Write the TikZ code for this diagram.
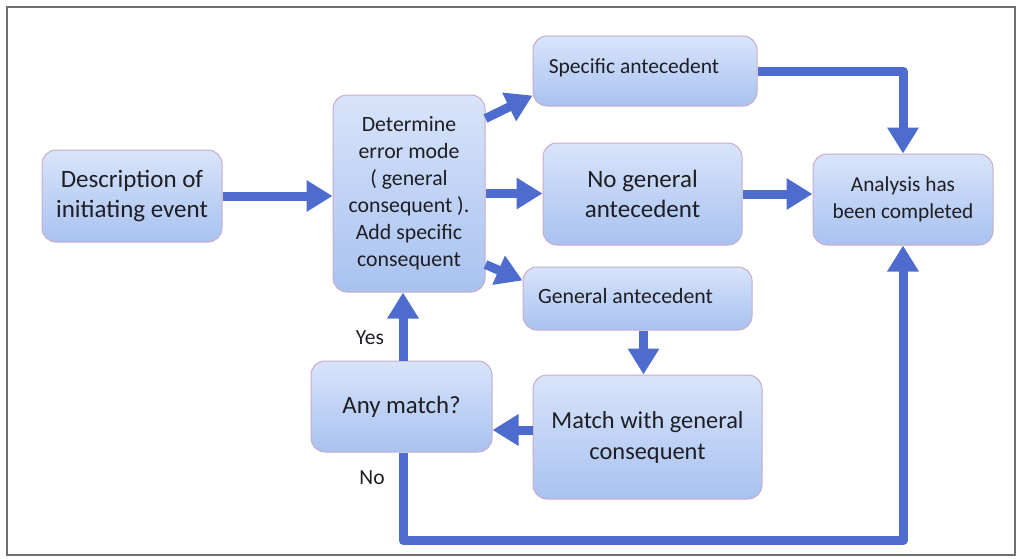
\documentclass[tikz,border=0pt]{standalone}
\usepackage{fontspec}
\setmainfont{Carlito}
\usetikzlibrary{arrows.meta,calc}

\definecolor{flowblue}{RGB}{78,108,206}
\definecolor{boxtop}{RGB}{216,228,250}
\definecolor{boxbottom}{RGB}{168,194,240}
\definecolor{boxedge}{RGB}{200,172,200}
\definecolor{inktext}{RGB}{30,30,36}
\definecolor{framegray}{RGB}{110,110,115}

\tikzset{
  stepbox/.style={draw=boxedge, line width=1pt, rounded corners=14pt,
    top color=boxtop, bottom color=boxbottom, text=inktext,
    align=center, inner sep=0pt},
  flow/.style={line width=9pt, draw=flowblue, line join=round,
    -{Triangle[width=30pt,length=26pt]}},
  answer/.style={text=inktext, font=\fontsize{21.5}{24}\selectfont}
}

\begin{document}
\begin{tikzpicture}[x=1pt,y=-1pt]
  \useasboundingbox (0,0) rectangle (1018,558);
  % outer frame
  \draw[framegray, line width=1.3pt] (7,7) rectangle (1015,555);

  % process boxes
  \node[stepbox, minimum width=180pt, minimum height=92pt,
        font=\fontsize{25}{30}\selectfont] (desc) at (132,196)
        {Description of\\initiating event};
  \node[stepbox, minimum width=152pt, minimum height=197pt,
        font=\fontsize{21.8}{27}\selectfont] (det) at (409,193.5)
        {Determine\\error mode\\( general\\consequent ).\\Add specific\\consequent};
  \node[stepbox, minimum width=224pt, minimum height=70pt,
        font=\fontsize{21.5}{24}\selectfont] (spec) at (645,71)
        {\raisebox{9pt}{\hspace*{-22pt}Specific antecedent}};
  \node[stepbox, minimum width=199pt, minimum height=102pt,
        font=\fontsize{25}{30}\selectfont] (nogen) at (642.5,194)
        {No general\\antecedent};
  \node[stepbox, minimum width=229pt, minimum height=63pt,
        font=\fontsize{21.8}{24}\selectfont] (genant) at (637.5,298.5)
        {\raisebox{6pt}{\hspace*{-24pt}General antecedent}};
  \node[stepbox, minimum width=229pt, minimum height=124pt,
        font=\fontsize{24.4}{31}\selectfont] (match) at (647.5,437)
        {Match with general\\consequent};
  \node[stepbox, minimum width=181pt, minimum height=91pt,
        font=\fontsize{24.8}{28}\selectfont] (any) at (401.5,406.5)
        {\raisebox{3pt}{Any match?}};
  \node[stepbox, minimum width=180pt, minimum height=91pt,
        font=\fontsize{21.3}{27}\selectfont] (ana) at (903,199.5)
        {Analysis has\\been completed};

  % connector end points
  \coordinate (detUp) at ($(det.east)+(0,-75)$);
  \coordinate (detDown) at ($(det.east)+(0,71)$);
  \coordinate (specIn) at ($(spec.south west)+(0,-11)$);
  \coordinate (genIn) at ($(genant.north west)+(0,14)$);
  \coordinate (genOut) at ($(genant.south)+(6,0)$);
  \coordinate (matchOut) at ($(match.west)+(0,-7)$);
  \coordinate (anyUp) at ($(any.north)+(1.5,0)$);
  \coordinate (anyDown) at ($(any.south)+(1.5,0)$);

  % connectors
  \draw[flow] (desc.east) -- (desc.east -| det.west);
  \draw[flow] (detUp) -- (specIn);
  \draw[flow] (det.east) -- (det.east -| nogen.west);
  \draw[flow] (detDown) -- (genIn);
  \draw[flow] (spec.east) -| (ana.north);
  \draw[flow] (nogen.east) -- (nogen.east -| ana.west);
  \draw[flow] (genOut) -- (genOut |- match.north);
  \draw[flow] (matchOut) -- (matchOut -| any.east);
  \draw[flow] (anyUp) -- (anyUp |- det.south);
  \draw[flow] (anyDown) -- ++(0,88) coordinate (turn) -| (ana.south);

  % answer labels
  \node[answer] (yes) at (370,338) {Yes};
  \node[answer] (no) at (372,478) {No};
\end{tikzpicture}
\end{document}
